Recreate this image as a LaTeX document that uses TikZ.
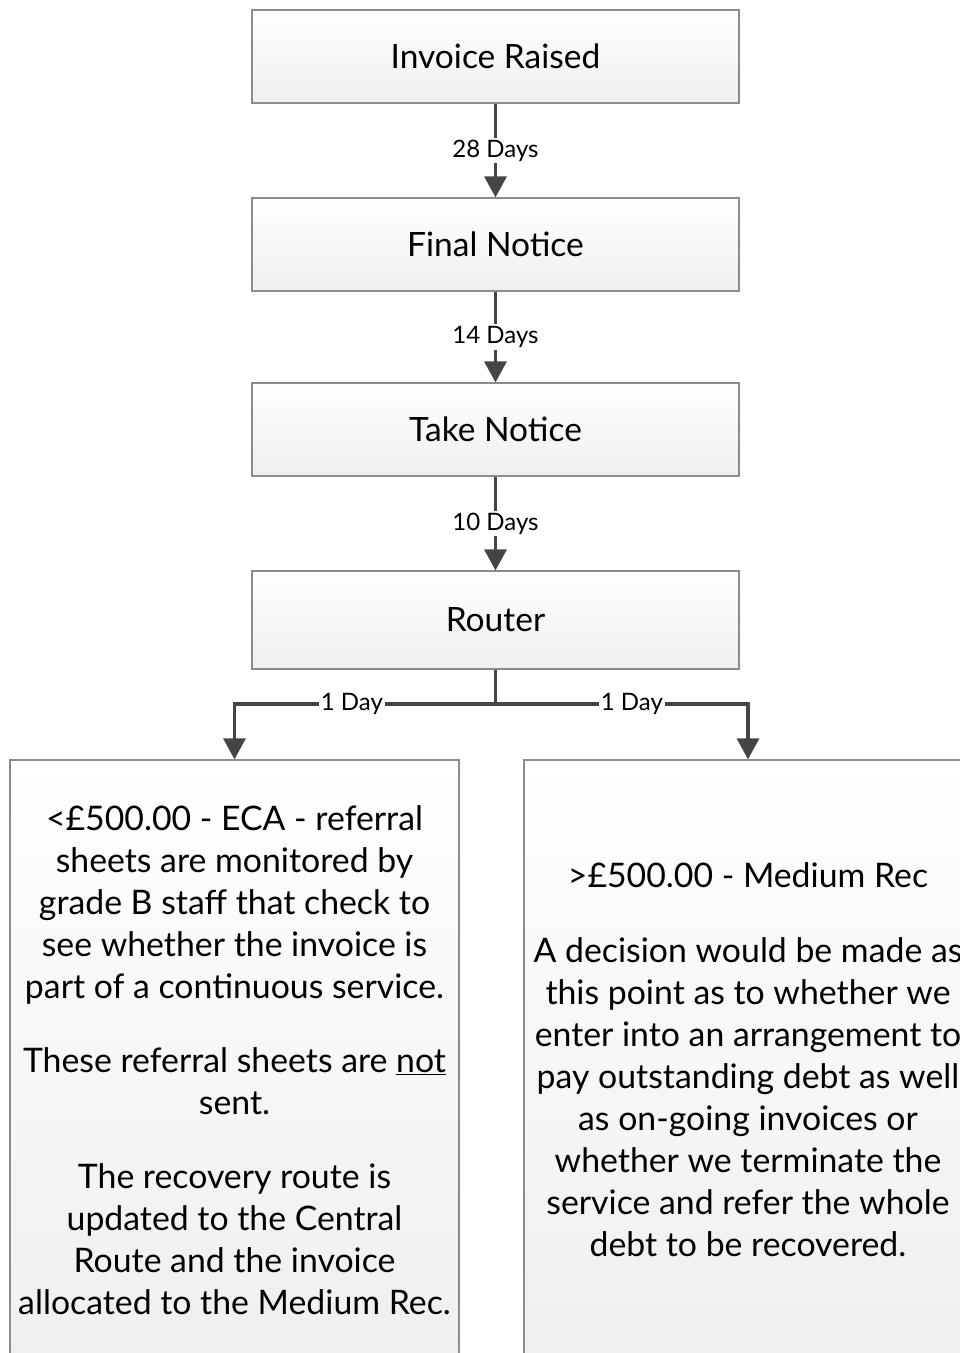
\documentclass[tikz,border=0pt]{standalone}
\usepackage{fontspec}
\setmainfont{Lato}
\usetikzlibrary{arrows.meta}
\definecolor{boxline}{HTML}{8C8C8C}
\definecolor{conncol}{HTML}{454545}
\definecolor{boxbot}{HTML}{EFEFEF}
\tikzset{
  stepbox/.style={draw=boxline, line width=1.2pt, top color=white, bottom color=boxbot,
    minimum width=487pt, minimum height=93pt, inner sep=0pt, font=\fontsize{33.5}{38}\selectfont},
  bigbox/.style={draw=boxline, line width=1.2pt, top color=white, bottom color=boxbot,
    minimum width=449pt, minimum height=600pt, inner sep=0pt, align=center,
    font=\fontsize{33.8}{42}\selectfont},
  conn/.style={draw=conncol, line width=3.2pt, -{Triangle[length=21pt,width=22pt]}},
  lbl/.style={fill=white, inner sep=2pt, font=\fontsize{24}{28}\selectfont, text=black},
}
\begin{document}
\begin{tikzpicture}[x=1pt,y=-1pt]
\useasboundingbox (0,0) rectangle (960,1353);
\clip (0,0) rectangle (960,1353);
\node[stepbox] (n1) at (495.5,56.5) {Invoice Raised};
\node[stepbox] (n2) at (495.5,244.5) {Final Notice};
\node[stepbox] (n3) at (495.5,429.5) {Take Notice};
\node[stepbox, minimum height=98pt] (n4) at (495.5,620) {Router};
\node[bigbox] (left) at (234.5,1060) {%
<£500.00 - ECA - referral\\
sheets are monitored by\\
grade B staff that check to\\
see whether the invoice is\\
part of a continuous service.\\[32pt]
These referral sheets are \underline{not}\\
sent.\\[32pt]
The recovery route is\\
updated to the Central\\
Route and the invoice\\
allocated to the Medium Rec.};
\node[bigbox, minimum width=448pt] (right) at (748,1060) {%
>£500.00 - Medium Rec\\[33pt]
A decision would be made as\\
this point as to whether we\\
enter into an arrangement to\\
pay outstanding debt as well\\
as on-going invoices or\\
whether we terminate the\\
service and refer the whole\\
debt to be recovered.};
\coordinate (j) at (495.5,704);
\draw[conn] (n1) -- node[lbl]{28 Days} (n2);
\draw[conn] (n2) -- node[lbl]{14 Days} (n3);
\draw[conn] (n3) -- node[lbl]{10 Days} (n4);
\draw[conn] (n4.south) -- (j) -| node[lbl, pos=0.275]{1 Day} (left.north);
\draw[conn] (j) -| node[lbl, pos=0.27]{1 Day} (right.north);
\end{tikzpicture}
\end{document}
